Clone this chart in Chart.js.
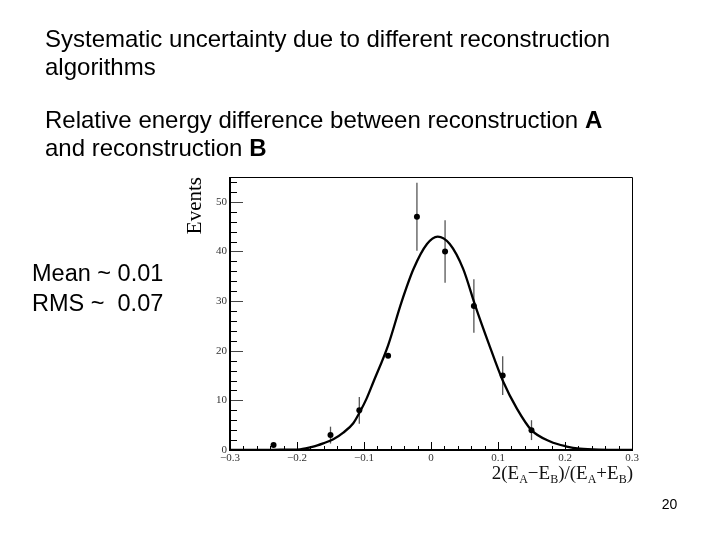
<!DOCTYPE html>
<html><head><meta charset="utf-8">
<script src="https://cdn.jsdelivr.net/npm/chart.js@4.4.1/dist/chart.umd.min.js"></script>
<style>
html,body{margin:0;padding:0;background:#fff;}
#wrap{position:relative;width:720px;height:540px;overflow:hidden;background:#fff;}
#c{position:absolute;left:0;top:0;}
.t{position:absolute;font-family:"Liberation Sans",Arial,sans-serif;color:#000;white-space:nowrap;}
.s{font-family:"Liberation Serif","Times New Roman",serif;}
.sub{font-size:12px;position:relative;top:4px;}
</style></head><body>
<div id="wrap">
<canvas id="c" width="720" height="540"></canvas>
<div class="t" style="left:45px;top:25.4px;font-size:24px;line-height:28px;">Systematic uncertainty due to different reconstruction<br>algorithms</div>
<div class="t" style="left:45px;top:105.7px;font-size:24px;line-height:28px;">Relative energy difference between reconstruction <b>A</b><br>and reconstruction <b>B</b></div>
<div class="t" style="left:32px;top:257.5px;font-size:23.5px;line-height:30px;">Mean ~ 0.01<br>RMS ~&nbsp; 0.07</div>
<div class="t s" style="left:491.7px;top:461.6px;font-size:19px;line-height:22px;color:#111;">2(E<span class="sub">A</span>&minus;E<span class="sub">B</span>)/(E<span class="sub">A</span>+E<span class="sub">B</span>)</div>
<div class="t" style="left:661.7px;top:496px;font-size:14px;line-height:16px;">20</div>
</div>
<script>
// histogram points (bin centres, counts, statistical errors)
const binCenters = [-0.235, -0.15, -0.107, -0.064, -0.021, 0.021, 0.064, 0.107, 0.15];
const eventCounts = [1, 3, 8, 19, 47, 40, 29, 15, 4];
const countErrors = [0, 1.7, 2.7, 0, 6.85, 6.3, 5.4, 3.9, 2.0];
// fitted curve
const fitX = [-0.3, -0.25, -0.225, -0.1955, -0.1757, -0.1607, -0.1458, -0.1309, -0.116, -0.106, -0.096, -0.086, -0.064, -0.044, -0.026, -0.006, 0.010, 0.028, 0.048, 0.066, 0.0855, 0.108, 0.128, 0.150, 0.178, 0.2025, 0.222, 0.25, 0.3];
const fitY = [0, 0.02, 0.06, 0.14, 0.67, 1.35, 2.16, 3.5, 5.4, 7.7, 10.4, 13.7, 21.1, 29.8, 36.5, 41.5, 43.0, 41.5, 36.5, 29.1, 21.7, 13.7, 8.4, 4.0, 1.7, 0.7, 0.25, 0.05, 0];
// axis ticks
const xTickValues = [-0.3, -0.2, -0.1, 0, 0.1, 0.2, 0.3];
const xTickLabels = ['\u22120.3', '\u22120.2', '\u22120.1', '0', '0.1', '0.2', '0.3'];
const yTickValues = [0, 10, 20, 30, 40, 50];
const yTickLabels = ['0', '10', '20', '30', '40', '50'];
const xAxisRange = [-0.3, 0.3];
const yAxisRange = [0, 55];
const yAxisTitle = 'Events';

const pointData = binCenters.map((x, i) => ({x: x, y: eventCounts[i]}));
const fitData = fitX.map((x, i) => ({x: x, y: fitY[i]}));

function nearestLabel(v, vals, labels) {
  let best = 0, bd = Infinity;
  vals.forEach((t, i) => { const d = Math.abs(t - v); if (d < bd) { bd = d; best = i; } });
  return bd < 1e-6 + 1e-3 * Math.abs(vals[1] - vals[0]) ? labels[best] : '';
}

const rootStyle = {
  id: 'rootStyle',
  beforeDatasetsDraw(chart) {
    const ctx = chart.ctx, a = chart.chartArea;
    const xs = chart.scales.x, ys = chart.scales.y;
    ctx.save();
    ctx.strokeStyle = '#000';
    // minor/major y ticks (inside)
    ctx.lineWidth = 1;
    for (let v = ys.min; v <= ys.max + 1e-9; v += 2) {
      const y = Math.round(ys.getPixelForValue(v)) + 0.5;
      const major = yTickValues.some(t => Math.abs(t - v) < 1e-6);
      ctx.strokeStyle = major ? '#444' : '#000';
      ctx.beginPath(); ctx.moveTo(a.left, y); ctx.lineTo(a.left + (major ? 13 : 7), y); ctx.stroke();
    }
    ctx.strokeStyle = '#000';
    for (let k = 0; k <= 30; k++) {
      const v = xs.min + k * 0.02;
      const x = Math.round(xs.getPixelForValue(v)) + 0.5;
      const major = xTickValues.some(t => Math.abs(t - v) < 1e-6);
      ctx.beginPath(); ctx.moveTo(x, a.bottom); ctx.lineTo(x, a.bottom - (major ? 8 : 4)); ctx.stroke();
    }
    // frame
    ctx.lineWidth = 1;
    ctx.beginPath();
    ctx.moveTo(a.left, a.top + 0.5); ctx.lineTo(a.right + 0.5, a.top + 0.5);
    ctx.lineTo(a.right + 0.5, a.bottom);
    ctx.stroke();
    ctx.lineWidth = 2;
    ctx.beginPath();
    ctx.moveTo(a.left, a.top); ctx.lineTo(a.left, a.bottom); ctx.lineTo(a.right + 1, a.bottom);
    ctx.stroke();
    // error bars
    ctx.beginPath(); ctx.rect(a.left, a.top, a.right - a.left, a.bottom - a.top); ctx.clip();
    ctx.strokeStyle = '#555';
    ctx.lineWidth = 1.3;
    binCenters.forEach((xv, i) => {
      const e = countErrors[i];
      if (!e) return;
      const x = xs.getPixelForValue(xv);
      ctx.beginPath();
      ctx.moveTo(x, ys.getPixelForValue(eventCounts[i] + e));
      ctx.lineTo(x, ys.getPixelForValue(eventCounts[i] - e));
      ctx.stroke();
    });
    ctx.restore();
  }
};

new Chart(document.getElementById('c'), {
  type: 'scatter',
  data: {
    datasets: [
      {
        label: 'fit', data: fitData, showLine: true, borderColor: '#000', borderWidth: 2.3,
        pointRadius: 0, cubicInterpolationMode: 'monotone', fill: false, order: 2
      },
      {
        label: 'data', data: pointData, showLine: false, pointRadius: 3,
        backgroundColor: '#000', borderColor: '#000', borderWidth: 0, order: 1
      }
    ]
  },
  options: {
    responsive: false, animation: false, devicePixelRatio: 1,
    layout: {padding: {left: 180, right: 88, top: 177, bottom: 50}},
    plugins: {legend: {display: false}, tooltip: {enabled: false}},
    scales: {
      x: {
        type: 'linear', min: xAxisRange[0], max: xAxisRange[1],
        afterFit: s => { s.height = 40; },
        grid: {display: false, drawTicks: false}, border: {display: false},
        ticks: {
          stepSize: 0.1, padding: 2, maxRotation: 0, autoSkip: false, color: '#333',
          font: {family: '"Liberation Serif", serif', size: 11},
          callback: v => nearestLabel(v, xTickValues, xTickLabels)
        }
      },
      y: {
        type: 'linear', min: yAxisRange[0], max: yAxisRange[1],
        afterFit: s => { s.width = 50; },
        grid: {display: false, drawTicks: false}, border: {display: false},
        title: {display: true, text: yAxisTitle, align: 'end', color: '#000',
          font: {family: '"Liberation Serif", serif', size: 21}, padding: {top: 3, bottom: 0}},
        ticks: {
          stepSize: 10, includeBounds: false, padding: 3, color: '#333',
          font: {family: '"Liberation Serif", serif', size: 11},
          callback: v => nearestLabel(v, yTickValues, yTickLabels)
        }
      }
    }
  },
  plugins: [rootStyle]
});
</script>
</body></html>
